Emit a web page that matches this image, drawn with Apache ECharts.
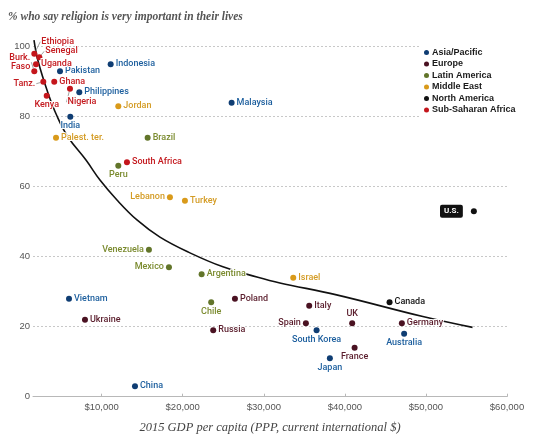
<!DOCTYPE html>
<html>
<head>
<meta charset="utf-8">
<script src="https://cdn.jsdelivr.net/npm/echarts@6/dist/echarts.min.js"></script>
<style>
html,body{margin:0;padding:0;background:#fff;}
#chart{width:550px;height:442px;}
</style>
</head>
<body>
<div id="chart"></div>
<script>
// ---- Data ----
const regions = ['Asia/Pacific','Europe','Latin America','Middle East','North America','Sub-Saharan Africa'];

const asiaNames = ['Indonesia','Pakistan','Philippines','India','Malaysia','Vietnam','China','South Korea','Japan','Australia'];
const asiaGdp   = [11110, 4860, 7240, 6130, 26030, 5970, 14110, 36510, 38150, 47310];
const asiaPct   = [95, 93, 87, 80, 84, 28, 3, 19, 11, 18];

const europeNames = ['Ukraine','Poland','Russia','Italy','Spain','UK','Germany','France'];
const europeGdp   = [7940, 26440, 23760, 35600, 35190, 40900, 47030, 41200];
const europePct   = [22, 28, 19, 26, 21, 21, 21, 14];

const latamNames = ['Brazil','Peru','Venezuela','Mexico','Argentina','Chile'];
const latamGdp   = [15670, 12050, 15830, 18300, 22330, 23510];
const latamPct   = [74, 66, 42, 37, 35, 27];

const mideastNames = ['Jordan','Palest. ter.','Lebanon','Turkey','Israel'];
const mideastGdp   = [12050, 4370, 18420, 20270, 33630];
const mideastPct   = [83, 74, 57, 56, 34];

const namerNames = ['Canada','U.S.'];
const namerGdp   = [45510, 55910];
const namerPct   = [27, 53];

const africaNames = ['Ethiopia','Senegal','Uganda','Burk. Faso','Tanz.','Ghana','Kenya','Nigeria','South Africa'];
const africaGdp   = [1690, 2310, 1900, 1690, 2800, 4150, 3220, 6090, 13120];
const africaPct   = [98, 97, 95, 93, 90, 90, 86, 88, 67];

// trend curve, points
const curveGdp = [1652, 2145, 3378, 4488, 5845, 8064, 9790, 11887, 14353, 17189, 20888, 24957, 29149, 31985, 38977, 49618, 55746];
const curvePct = [101.9, 96.0, 86.8, 80.2, 74.2, 67.6, 61.9, 56.2, 50.5, 45.6, 41.1, 37.1, 34.2, 32.5, 29.1, 22.9, 19.8];

const xTicks = [10000, 20000, 30000, 40000, 50000, 60000];

// ---- Styles ----
const dotColors  = ['#0f3d73','#4a1222','#62752a','#d99a1a','#111111','#c4161c'];
const textColors = ['#1d5f9e','#5a1d2c','#7b8b2f','#d49c25','#111111','#c41a1f'];

const labelCfg = {
  'Ethiopia':   {position:'right', layout:[2,-12], line:true},
  'Senegal':    {position:'right', layout:[1,-6], line:true},
  'Uganda':     {position:'right', offset:[2,-3]},
  'Burk. Faso': {position:'left', layout:[1,-9], line:true, text:'Burk.\nFaso'},
  'Tanz.':      {position:'left', layout:[-3,2], line:true},
  'Kenya':      {position:'bottom', offset:[3,-3]},
  'Nigeria':    {position:'bottom', layout:[12,4], line:true},
  'India':      {position:'bottom', offset:[7,-1]},
  'Peru':       {position:'bottom'},
  'Chile':      {position:'bottom'},
  'South Korea':{position:'bottom'},
  'Japan':      {position:'bottom'},
  'Australia':  {position:'bottom'},
  'France':     {position:'bottom', offset:[12,-1]},
  'UK':         {position:'top'},
  'Spain':      {position:'left'},
  'Lebanon':    {position:'left'},
  'Venezuela':  {position:'left'},
  'Mexico':     {position:'left'}
};

const labelFont = {fontFamily:'Roboto', fontSize:9, fontWeight:500};

function buildSeries(idx, names, gdp, pct) {
  const data = names.map((n, i) => {
    const c = labelCfg[n] || {position:'right'};
    const item = {
      name: n,
      value: [gdp[i], pct[i]],
      label: {position: c.position, offset: c.offset || [0,0]},
      labelLine: {show: !!c.line}
    };
    if (n === 'U.S.') {
      item.label = {
        position:'left', distance:8, color:'#fff', backgroundColor:'#111',
        padding:[3,4,2,4], borderRadius:2, fontWeight:'bold', fontSize:8,
        textBorderWidth:0
      };
    }
    return item;
  });
  return {
    name: regions[idx],
    type: 'scatter',
    z: 3,
    symbolSize: 6,
    itemStyle: {color: dotColors[idx], opacity: 1},
    label: Object.assign({
      show: true, distance: 2, color: textColors[idx],
      textBorderColor:'#fff', textBorderWidth:2,
      formatter: p => (labelCfg[p.name] && labelCfg[p.name].text) || p.name
    }, labelFont),
    labelLine: {lineStyle:{color:'#8a8a8a', width:0.8}},
    labelLayout: function(params) {
      const c = labelCfg[names[params.dataIndex]];
      if (c && c.layout) return {dx: c.layout[0], dy: c.layout[1]};
      return {};
    },
    emphasis: {disabled: true},
    data: data
  };
}

const chart = echarts.init(document.getElementById('chart'), null, {renderer:'canvas'});
chart.setOption({
  animation: false,
  backgroundColor: '#fff',
  title: {
    text: '% who say religion is very important in their lives',
    left: 3, top: 6,
    textStyle: {fontFamily:'Liberation Serif', fontStyle:'italic', fontWeight:'bold', fontSize:11.5, color:'#555'}
  },
  grid: {left: 33, right: 43, top: 46.7, bottom: 45.3, containLabel: false},
  legend: {
    data: regions,
    orient: 'vertical',
    left: 420, top: 44,
    padding: [3, 10, 7, 4],
    backgroundColor: '#fff',
    itemWidth: 5, itemHeight: 5, itemGap: 0.5,
    icon: 'circle',
    selectedMode: false,
    textStyle: {fontFamily:'Liberation Sans', fontSize:9, fontWeight:'bold', color:'#1a1a1a', lineHeight:11, padding:[0,0,0,-2]},
    z: 5
  },
  xAxis: {
    type: 'value',
    min: 1529, max: 60000,
    axisLine: {show: true, lineStyle: {color:'#b8b8b8', width:1}},
    axisTick: {show: true, inside: true, length: 3, customValues: xTicks, lineStyle:{color:'#b8b8b8'}},
    axisLabel: {
      customValues: xTicks, margin: 6,
      fontFamily:'Liberation Sans', fontSize: 9.5, color:'#555',
      formatter: v => '$' + v.toLocaleString('en-US')
    },
    splitLine: {show: false},
    name: '2015 GDP per capita (PPP, current international $)',
    nameLocation: 'middle', nameGap: 25,
    nameTextStyle: {fontFamily:'Liberation Serif', fontStyle:'italic', fontSize:12.5, color:'#444'}
  },
  yAxis: {
    type: 'value', min: 0, max: 100, interval: 20,
    axisLine: {show: false}, axisTick: {show: false},
    axisLabel: {margin: 3, fontFamily:'Liberation Sans', fontSize: 9.5, color:'#555'},
    splitLine: {show: true, lineStyle: {color:'#c8c8c8', type:[2,2], width:1}}
  },
  series: [
    {
      name: 'trend', type: 'line', z: 1, clip: false, smooth: 0.4,
      symbol: 'none', silent: true,
      lineStyle: {color:'#111', width: 1.6},
      data: curveGdp.map((g, i) => [g, curvePct[i]])
    },
    buildSeries(0, asiaNames, asiaGdp, asiaPct),
    buildSeries(1, europeNames, europeGdp, europePct),
    buildSeries(2, latamNames, latamGdp, latamPct),
    buildSeries(3, mideastNames, mideastGdp, mideastPct),
    buildSeries(4, namerNames, namerGdp, namerPct),
    buildSeries(5, africaNames, africaGdp, africaPct)
  ]
});
</script>
</body>
</html>
